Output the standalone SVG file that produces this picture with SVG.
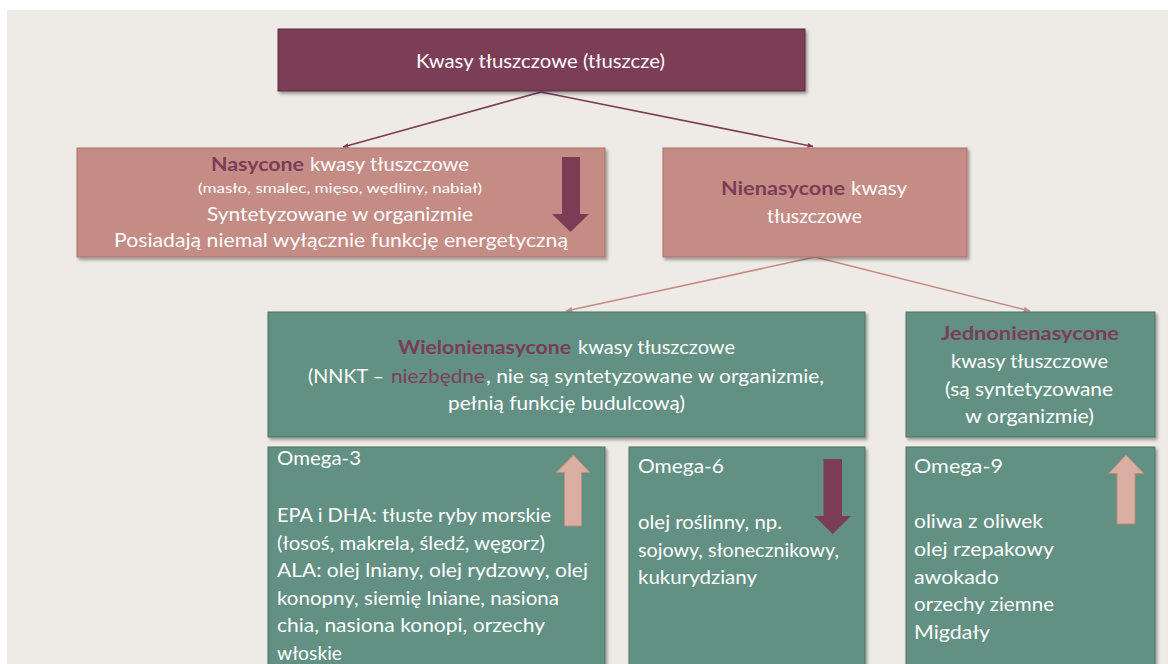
<svg xmlns="http://www.w3.org/2000/svg" width="1168" height="664" viewBox="0 0 1168 664">
<defs>
<filter id="sh" x="-5%" y="-5%" width="115%" height="120%">
<feDropShadow dx="2" dy="2.5" stdDeviation="1.5" flood-color="#000" flood-opacity="0.35"/>
</filter>
<marker id="ap" viewBox="0 0 10 10" refX="9" refY="5" markerWidth="6" markerHeight="6" orient="auto" markerUnits="userSpaceOnUse">
<path d="M0,1 L10,5 L0,9 Z" fill="#7B3C56"/>
</marker>
<marker id="ar" viewBox="0 0 10 10" refX="9" refY="5" markerWidth="7" markerHeight="7" orient="auto" markerUnits="userSpaceOnUse">
<path d="M0,1 L10,5 L0,9 Z" fill="#C48C85"/>
</marker>
</defs>
<style>
text{font-family:Lato,"Noto Sans","Liberation Sans",sans-serif;font-size:19px;fill:#FFFFFF}
.b{font-weight:bold;fill:#7B3C56}
.p{fill:#7E3E58}
.sm{font-size:13px}
.purple{fill:#7B3C56;stroke:#5E2A40;stroke-width:1}
.rose{fill:#C48C85;stroke:#A9726B;stroke-width:1}
.teal{fill:#629083;stroke:#4D7569;stroke-width:1}
.adark{fill:#7B3C56}
.alight{fill:#D8AFA0;stroke:#B98D80;stroke-width:1}
</style>
<rect x="0" y="0" width="1168" height="664" fill="#FFFFFF"/>
<rect x="7" y="10" width="1161" height="654" fill="#EEEBE6"/>

<g id="connectors" fill="none" stroke-width="1.6">
<line x1="541" y1="92" x2="343" y2="147" stroke="#7B3C56" marker-end="url(#ap)"/>
<line x1="541" y1="92" x2="813" y2="146.5" stroke="#7B3C56" marker-end="url(#ap)"/>
<line x1="815" y1="257" x2="566" y2="311" stroke="#C48C85" marker-end="url(#ar)"/>
<line x1="815" y1="257" x2="1030" y2="311" stroke="#C48C85" marker-end="url(#ar)"/>
</g>

<g id="n-top">
<rect x="278" y="29" width="527" height="62" class="purple" filter="url(#sh)"/>
<text x="416" y="68" textLength="249" lengthAdjust="spacingAndGlyphs">Kwasy tłuszczowe (tłuszcze)</text>
</g>

<g id="n-nasycone">
<rect x="77" y="148" width="528" height="109" class="rose" filter="url(#sh)"/>
<text x="211" y="171" class="b" textLength="93" lengthAdjust="spacingAndGlyphs">Nasycone</text>
<text x="310" y="171" textLength="159" lengthAdjust="spacingAndGlyphs">kwasy tłuszczowe</text>
<text x="198" y="193" class="sm" textLength="284" lengthAdjust="spacingAndGlyphs">(masło, smalec, mięso, wędliny, nabiał)</text>
<text x="207" y="221" textLength="266" lengthAdjust="spacingAndGlyphs">Syntetyzowane w organizmie</text>
<text x="114" y="247" textLength="454" lengthAdjust="spacingAndGlyphs">Posiadają niemal wyłącznie funkcję energetyczną</text>
<path d="M562,157 H580 V214 H589 L570.5,232 L552,214 H562 Z" class="adark"/>
</g>

<g id="n-nienasycone">
<rect x="663" y="148" width="304" height="109" class="rose" filter="url(#sh)"/>
<text x="721" y="195" class="b" textLength="124" lengthAdjust="spacingAndGlyphs">Nienasycone</text>
<text x="851" y="195" textLength="56" lengthAdjust="spacingAndGlyphs">kwasy</text>
<text x="767" y="223" textLength="95" lengthAdjust="spacingAndGlyphs">tłuszczowe</text>
</g>

<g id="n-wielo">
<rect x="268" y="312" width="597" height="125" class="teal" filter="url(#sh)"/>
<text x="398" y="354" class="b" textLength="173" lengthAdjust="spacingAndGlyphs">Wielonienasycone</text>
<text x="578" y="354" textLength="157" lengthAdjust="spacingAndGlyphs">kwasy tłuszczowe</text>
<text x="308" y="382.5" textLength="76" lengthAdjust="spacingAndGlyphs">(NNKT –</text>
<text x="391" y="382.5" class="p" textLength="94" lengthAdjust="spacingAndGlyphs">niezbędne</text>
<text x="486" y="382.5" textLength="338" lengthAdjust="spacingAndGlyphs">, nie są syntetyzowane w organizmie,</text>
<text x="448" y="410" textLength="237" lengthAdjust="spacingAndGlyphs">pełnią funkcję budulcową)</text>
</g>

<g id="n-jedno">
<rect x="906" y="312" width="249" height="125" class="teal" filter="url(#sh)"/>
<text x="941" y="340" class="b" textLength="178" lengthAdjust="spacingAndGlyphs">Jednonienasycone</text>
<text x="951" y="368" textLength="157" lengthAdjust="spacingAndGlyphs">kwasy tłuszczowe</text>
<text x="945" y="395.5" textLength="168" lengthAdjust="spacingAndGlyphs">(są syntetyzowane</text>
<text x="965" y="423" textLength="129" lengthAdjust="spacingAndGlyphs">w organizmie)</text>
</g>

<g id="n-omega3">
<rect x="268" y="447" width="337" height="240" class="teal" filter="url(#sh)"/>
<text x="277" y="465" textLength="84" lengthAdjust="spacingAndGlyphs">Omega-3</text>
<text x="277" y="522" textLength="274" lengthAdjust="spacingAndGlyphs">EPA i DHA: tłuste ryby morskie</text>
<text x="277" y="549.5" textLength="268" lengthAdjust="spacingAndGlyphs">(łosoś, makrela, śledź, węgorz)</text>
<text x="277" y="577" textLength="311" lengthAdjust="spacingAndGlyphs">ALA: olej lniany, olej rydzowy, olej</text>
<text x="277" y="604.7" textLength="282" lengthAdjust="spacingAndGlyphs">konopny, siemię lniane, nasiona</text>
<text x="277" y="632.3" textLength="268" lengthAdjust="spacingAndGlyphs">chia, nasiona konopi, orzechy</text>
<text x="277" y="659.7" textLength="65" lengthAdjust="spacingAndGlyphs">włoskie</text>
<path d="M573.5,455 L590,472.5 H581.5 V526 H564.5 V472.5 H556 Z" class="alight"/>
</g>

<g id="n-omega6">
<rect x="629" y="447" width="236" height="240" class="teal" filter="url(#sh)"/>
<text x="638" y="473" textLength="86" lengthAdjust="spacingAndGlyphs">Omega-6</text>
<text x="638" y="529" textLength="144" lengthAdjust="spacingAndGlyphs">olej roślinny, np.</text>
<text x="638" y="556.7" textLength="201" lengthAdjust="spacingAndGlyphs">sojowy, słonecznikowy,</text>
<text x="638" y="584" textLength="119" lengthAdjust="spacingAndGlyphs">kukurydziany</text>
<path d="M823.5,459 H842 V516 H851 L832.7,534 L814.5,516 H823.5 Z" class="adark"/>
</g>

<g id="n-omega9">
<rect x="906" y="447" width="249" height="240" class="teal" filter="url(#sh)"/>
<text x="914" y="473" textLength="89" lengthAdjust="spacingAndGlyphs">Omega-9</text>
<text x="914" y="528.3" textLength="129" lengthAdjust="spacingAndGlyphs">oliwa z oliwek</text>
<text x="914" y="556" textLength="140" lengthAdjust="spacingAndGlyphs">olej rzepakowy</text>
<text x="914" y="583.5" textLength="85" lengthAdjust="spacingAndGlyphs">awokado</text>
<text x="914" y="611" textLength="140" lengthAdjust="spacingAndGlyphs">orzechy ziemne</text>
<text x="914" y="639" textLength="76" lengthAdjust="spacingAndGlyphs">Migdały</text>
<path d="M1126,455 L1144,473.5 H1135 V524 H1117 V473.5 H1108.5 Z" class="alight"/>
</g>
</svg>
